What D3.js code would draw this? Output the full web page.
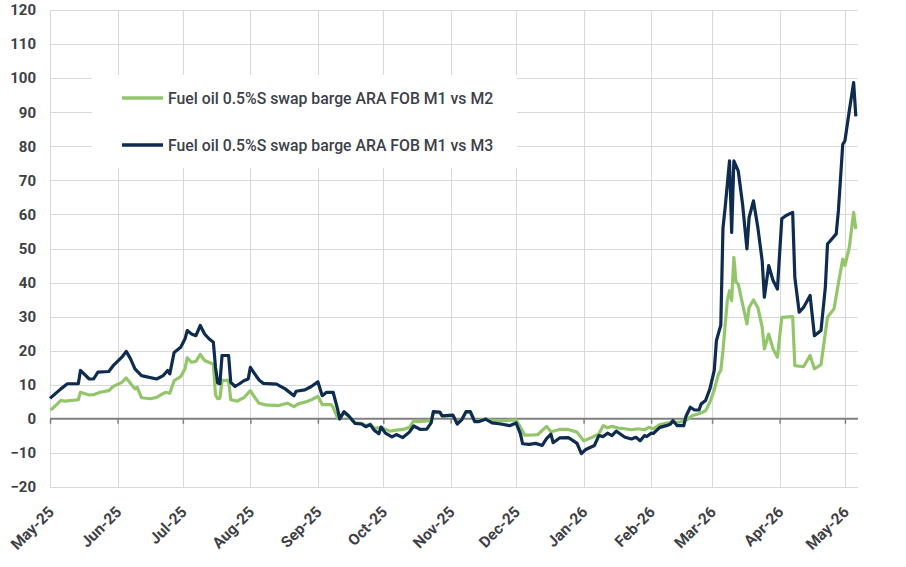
<!DOCTYPE html>
<html>
<head>
<meta charset="utf-8">
<script src="https://cdn.jsdelivr.net/npm/d3@7"></script>
<style>
  body { margin: 0; background: #fff; }
  svg { display: block; font-family: Roboto, "Liberation Sans", sans-serif; }
</style>
</head>
<body>
<svg id="chart" width="906" height="567"></svg>
<script>
const seriesNames = [
  'Fuel oil 0.5%S swap barge ARA FOB M1 vs M2',
  'Fuel oil 0.5%S swap barge ARA FOB M1 vs M3'
];
const yTicks = [-20, -10, 0, 10, 20, 30, 40, 50, 60, 70, 80, 90, 100, 110, 120];
const monthTicks = ['2025-05-01', '2025-06-01', '2025-07-01', '2025-08-01', '2025-09-01', '2025-10-01',
  '2025-11-01', '2025-12-01', '2026-01-01', '2026-02-01', '2026-03-01', '2026-04-01', '2026-05-01'];

// M1 vs M2 (green)
const m2Dates = ['2025-05-01', '2025-05-02', '2025-05-06', '2025-05-08', '2025-05-14', '2025-05-15', '2025-05-19',
  '2025-05-21', '2025-05-24', '2025-05-28', '2025-05-30', '2025-06-03', '2025-06-05', '2025-06-07', '2025-06-09',
  '2025-06-10', '2025-06-12', '2025-06-16', '2025-06-19', '2025-06-21', '2025-06-23', '2025-06-25', '2025-06-27',
  '2025-06-30', '2025-07-02', '2025-07-03', '2025-07-05', '2025-07-07', '2025-07-09', '2025-07-11', '2025-07-14',
  '2025-07-15', '2025-07-16', '2025-07-17', '2025-07-18', '2025-07-19', '2025-07-22', '2025-07-23', '2025-07-26',
  '2025-07-27', '2025-07-29', '2025-08-01', '2025-08-03', '2025-08-05', '2025-08-08', '2025-08-14', '2025-08-18',
  '2025-08-21', '2025-08-23', '2025-08-26', '2025-08-29', '2025-09-01', '2025-09-03', '2025-09-07', '2025-09-08',
  '2025-09-10', '2025-09-11', '2025-09-13', '2025-09-15', '2025-09-18', '2025-09-21', '2025-09-23', '2025-09-25',
  '2025-09-27', '2025-09-30', '2025-10-04', '2025-10-07', '2025-10-10', '2025-10-13', '2025-10-15', '2025-10-17',
  '2025-10-20', '2025-10-23', '2025-10-24', '2025-10-27', '2025-10-28', '2025-11-02', '2025-11-04', '2025-11-06',
  '2025-11-08', '2025-11-10', '2025-11-12', '2025-11-14', '2025-11-17', '2025-11-20', '2025-11-26', '2025-12-01',
  '2025-12-03', '2025-12-05', '2025-12-09', '2025-12-11', '2025-12-15', '2025-12-17', '2025-12-21', '2025-12-25',
  '2025-12-29', '2026-01-01', '2026-01-05', '2026-01-08', '2026-01-10', '2026-01-12', '2026-01-14', '2026-01-17',
  '2026-01-20', '2026-01-23', '2026-01-26', '2026-01-29', '2026-01-31', '2026-02-02', '2026-02-05', '2026-02-10',
  '2026-02-14', '2026-02-17', '2026-02-20', '2026-02-23', '2026-02-26', '2026-02-28', '2026-03-02', '2026-03-03',
  '2026-03-04', '2026-03-05', '2026-03-06', '2026-03-08', '2026-03-09', '2026-03-10', '2026-03-11', '2026-03-12',
  '2026-03-13', '2026-03-15', '2026-03-17', '2026-03-18', '2026-03-20', '2026-03-22', '2026-03-24', '2026-03-25',
  '2026-03-27', '2026-03-29', '2026-03-31', '2026-04-02', '2026-04-07', '2026-04-08', '2026-04-12', '2026-04-15',
  '2026-04-17', '2026-04-20', '2026-04-23', '2026-04-26', '2026-04-28', '2026-04-30', '2026-05-01', '2026-05-03',
  '2026-05-05', '2026-05-06'];
const m2Values = [2.8, 2.9, 5.4, 5.2, 5.6, 7.8, 7, 7.1, 7.8, 8.3, 9.5, 10.7, 12, 10.4, 8.8,
  9.3, 6.2, 5.9, 6.3, 7.1, 7.8, 7.5, 11.2, 12.4, 14.7, 17.9, 16.6, 16.9, 18.9, 17.1, 16.3,
  16, 7, 5.9, 6, 11.3, 11.3, 5.6, 5.2, 5.6, 6.2, 8.3, 6.3, 4.6, 4.1, 3.9, 4.6,
  3.6, 4.4, 4.9, 5.6, 6.6, 4.2, 4.2, 3.4, 0.3, 0, 1.8, 0.8, -1.2, -1.3, -2, -1.5,
  -2.8, -2.5, -3.6, -3.3, -3.1, -2.5, -0.6, -0.8, -0.7, -0.5, 1.9, 1.8, 0.8, 1, -1.2, -0.2,
  1.9, 1.9, -0.5, -0.5, 0, -0.5, -0.5, -0.3, -2.5, -4.8, -4.7, -4.6, -2.2, -3.8, -3.1, -3.1,
  -3.9, -6.4, -5.4, -4.4, -2, -2.6, -2.2, -2.7, -2.9, -3.2, -2.9, -3.2, -2.5, -2.9, -1.7, -1,
  -1, -0.5, 1, 1.5, 2.4, 4.9, 8.5, 11, 13.2, 14.2, 20, 34.7, 37.6, 34.7, 47.4, 40.1,
  39.6, 33.7, 27.9, 32.7, 34.9, 32.7, 26.9, 20.5, 24.9, 20.5, 18.1, 29.8, 30, 15.6, 15.3, 18.6,
  14.7, 15.9, 29.8, 32.3, 39.8, 46.9, 45, 50.3, 60.6, 55.7];

// M1 vs M3 (navy)
const m3Dates = ['2025-05-01', '2025-05-06', '2025-05-09', '2025-05-14', '2025-05-15', '2025-05-19', '2025-05-21',
  '2025-05-23', '2025-05-28', '2025-05-30', '2025-06-03', '2025-06-05', '2025-06-07', '2025-06-09', '2025-06-12',
  '2025-06-14', '2025-06-19', '2025-06-22', '2025-06-24', '2025-06-25', '2025-06-27', '2025-06-30', '2025-07-02',
  '2025-07-03', '2025-07-05', '2025-07-07', '2025-07-09', '2025-07-11', '2025-07-13', '2025-07-15', '2025-07-16',
  '2025-07-17', '2025-07-18', '2025-07-19', '2025-07-22', '2025-07-23', '2025-07-25', '2025-07-27', '2025-07-29',
  '2025-07-31', '2025-08-01', '2025-08-03', '2025-08-05', '2025-08-07', '2025-08-13', '2025-08-17', '2025-08-21',
  '2025-08-22', '2025-08-26', '2025-08-29', '2025-09-01', '2025-09-03', '2025-09-05', '2025-09-08', '2025-09-10',
  '2025-09-11', '2025-09-13', '2025-09-15', '2025-09-18', '2025-09-21', '2025-09-23', '2025-09-25', '2025-09-27',
  '2025-09-29', '2025-09-30', '2025-10-02', '2025-10-05', '2025-10-07', '2025-10-10', '2025-10-13', '2025-10-15',
  '2025-10-18', '2025-10-21', '2025-10-23', '2025-10-24', '2025-10-27', '2025-10-28', '2025-11-02', '2025-11-04',
  '2025-11-06', '2025-11-08', '2025-11-10', '2025-11-12', '2025-11-14', '2025-11-17', '2025-11-20', '2025-11-24',
  '2025-11-28', '2025-12-01', '2025-12-03', '2025-12-04', '2025-12-07', '2025-12-10', '2025-12-13', '2025-12-15',
  '2025-12-17', '2025-12-18', '2025-12-21', '2025-12-25', '2025-12-27', '2025-12-29', '2025-12-31', '2026-01-02',
  '2026-01-06', '2026-01-08', '2026-01-10', '2026-01-12', '2026-01-14', '2026-01-16', '2026-01-18', '2026-01-20',
  '2026-01-23', '2026-01-25', '2026-01-27', '2026-01-29', '2026-01-30', '2026-02-01', '2026-02-02', '2026-02-05',
  '2026-02-08', '2026-02-10', '2026-02-11', '2026-02-13', '2026-02-16', '2026-02-17', '2026-02-19', '2026-02-21',
  '2026-02-23', '2026-02-24', '2026-02-26', '2026-02-28', '2026-03-02', '2026-03-03', '2026-03-05', '2026-03-06',
  '2026-03-07', '2026-03-09', '2026-03-10', '2026-03-11', '2026-03-13', '2026-03-15', '2026-03-17', '2026-03-18',
  '2026-03-20', '2026-03-22', '2026-03-24', '2026-03-25', '2026-03-27', '2026-03-29', '2026-03-31', '2026-04-02',
  '2026-04-04', '2026-04-07', '2026-04-08', '2026-04-10', '2026-04-12', '2026-04-15', '2026-04-16', '2026-04-17',
  '2026-04-20', '2026-04-22', '2026-04-23', '2026-04-25', '2026-04-27', '2026-04-28', '2026-04-30', '2026-05-01',
  '2026-05-03', '2026-05-05', '2026-05-06'];
const m3Values = [6, 8.8, 10.3, 10.3, 14.2, 11.7, 11.7, 13.7, 13.9, 15.6, 18.1, 19.8, 17.6, 14.7, 12.7,
  12.4, 11.7, 12.7, 14.2, 13.2, 19.5, 21, 23.5, 25.9, 24.9, 24.4, 27.4, 24.9, 23.5, 22.5, 15.1,
  10.5, 10.3, 18.6, 18.6, 10.7, 9.5, 10.3, 11.2, 11.7, 15.1, 13.2, 11.4, 10.4, 10.2, 8.8, 6.8,
  8.1, 8.5, 9.5, 10.9, 6.8, 7.8, 7.8, 3, 0, 2.1, 1, -1.3, -1.5, -2.3, -1.7, -3.4,
  -4.4, -2.4, -4.2, -5.3, -4.6, -5.5, -3.9, -2.1, -3.1, -3, -1.2, 2.1, 2, 0.9, 1.1, -1.5,
  -0.3, 2.1, 2.1, -0.8, -0.8, -0.1, -1.2, -1.5, -2, -1.2, -4.4, -7.3, -7.5, -7.2, -7.8, -5.8,
  -4.5, -7, -5.6, -5.5, -6.3, -7.2, -10.2, -9, -7.8, -4.9, -5.2, -4.2, -4.9, -3.6, -4.5, -5.4,
  -5.9, -5.4, -6.4, -4.9, -5.2, -4.2, -4.3, -2.5, -2, -1.5, -0.5, -2, -2, 0.7, 3.4, 2.6,
  2.6, 4.4, 5.4, 8.8, 14.2, 23, 27.5, 56, 62, 75.7, 54.7, 75.7, 72.8, 63, 49.9, 59.1,
  64, 56.2, 46.4, 35.7, 45, 40.6, 38.1, 58.7, 59.7, 60.6, 41.5, 31.3, 32.7, 36.2, 30.3, 24.4,
  25.9, 38.6, 51.3, 52.8, 54.3, 61.1, 80.6, 81.6, 90.4, 98.7, 88.8];

const colors = ['#93c66a', '#0e2b50'];

const svg = d3.select('#chart');
const parse = d3.timeParse('%Y-%m-%d');
const margin = { top: 10, right: 48, bottom: 80, left: 50 };
const width = +svg.attr('width');
const height = +svg.attr('height');

const x = d3.scaleTime()
  .domain([parse('2025-05-01'), parse('2026-05-07')])
  .range([margin.left, width - margin.right]);
const y = d3.scaleLinear()
  .domain([-20, 120])
  .range([height - margin.bottom, margin.top]);

const ticksX = monthTicks.map(parse);

// grid
const grid = svg.append('g').attr('stroke', '#d9d9d9').attr('stroke-width', 1);
grid.selectAll('line.h')
  .data(yTicks.filter(v => v !== 0))
  .join('line')
  .attr('x1', x.range()[0]).attr('x2', x.range()[1])
  .attr('y1', d => Math.round(y(d)) + 0.5).attr('y2', d => Math.round(y(d)) + 0.5);
grid.selectAll('line.v')
  .data(ticksX)
  .join('line')
  .attr('x1', d => Math.round(x(d)) + 0.5).attr('x2', d => Math.round(x(d)) + 0.5)
  .attr('y1', y.range()[1]).attr('y2', y.range()[0]);

// y labels
svg.append('g')
  .attr('transform', `translate(${margin.left},0)`)
  .call(d3.axisLeft(y).tickValues(yTicks).tickSize(0).tickPadding(14))
  .call(g => g.select('.domain').remove())
  .call(g => g.selectAll('text')
    .attr('font-family', 'Roboto, sans-serif')
    .attr('font-size', 15)
    .attr('font-weight', 700)
    .attr('fill', '#3f3f46'));

// zero axis with month ticks
svg.append('g')
  .attr('transform', `translate(0,${y(0)})`)
  .call(d3.axisBottom(x).tickValues(ticksX).tickSize(5).tickFormat(''))
  .call(g => g.select('.domain').attr('d', `M${x.range()[0]},0H${x.range()[1]}`)
    .attr('stroke', '#808080').attr('stroke-width', 2))
  .call(g => g.selectAll('.tick line').attr('stroke', '#808080').attr('stroke-width', 1.5));

// x labels, rotated
svg.append('g')
  .selectAll('text')
  .data(ticksX)
  .join('text')
  .attr('transform', d => `translate(${x(d) + 5},${y(-20) + 26}) rotate(-45)`)
  .attr('text-anchor', 'end')
  .attr('font-size', 15.5)
  .attr('font-weight', 700)
  .attr('fill', '#3f3f46')
  .text(d3.timeFormat('%b-%y'));

// lines
const series = [
  { name: seriesNames[0], dates: m2Dates, values: m2Values, color: colors[0] },
  { name: seriesNames[1], dates: m3Dates, values: m3Values, color: colors[1] }
];
const line = d3.line().x(d => x(d[0])).y(d => y(d[1]));
svg.append('g')
  .selectAll('path')
  .data(series)
  .join('path')
  .attr('fill', 'none')
  .attr('stroke', d => d.color)
  .attr('stroke-width', 3.2)
  .attr('stroke-linejoin', 'round')
  .attr('d', d => line(d.dates.map((s, i) => [parse(s), d.values[i]])));

// legend
const legend = svg.append('g');
legend.append('rect')
  .attr('x', 92).attr('y', 75).attr('width', 425).attr('height', 93)
  .attr('fill', '#fff');
const item = legend.selectAll('g.item')
  .data(series)
  .join('g')
  .attr('class', 'item')
  .attr('transform', (d, i) => `translate(122,${98 + i * 47})`);
item.append('line')
  .attr('x1', 0).attr('x2', 41)
  .attr('stroke', d => d.color)
  .attr('stroke-width', 3.5);
item.append('text')
  .attr('x', 46).attr('dy', '0.36em')
  .attr('font-size', 15.8)
  .attr('font-weight', 500)
  .attr('fill', '#3d4049')
  .text(d => d.name);
</script>
</body>
</html>
